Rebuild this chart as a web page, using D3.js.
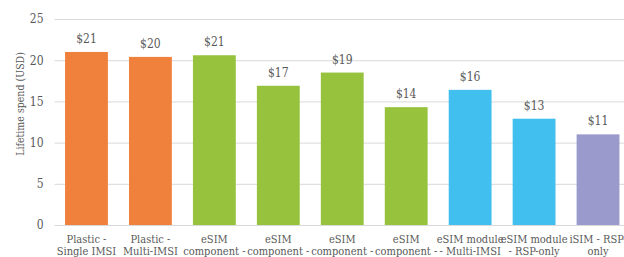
<!DOCTYPE html>
<html>
<head>
<meta charset="utf-8">
<script src="https://cdn.jsdelivr.net/npm/d3@7"></script>
<style>
  body { margin: 0; background: #fff; }
  svg text { font-family: "DejaVu Serif Condensed", "DejaVu Serif", "Liberation Serif", serif; font-stretch: condensed; fill: #595959; }
</style>
</head>
<body>
<div id="chart"></div>
<script>
// chart data
var categories = [
  "Plastic - Single IMSI",
  "Plastic - Multi-IMSI",
  "eSIM component - A",
  "eSIM component - B",
  "eSIM component - C",
  "eSIM component - D",
  "eSIM module - Multi-IMSI",
  "eSIM module - RSP-only",
  "iSIM - RSP-only"
];
// label lines as they show in the original (the rest falls below the picture)
var labelLines = [
  ["Plastic -", "Single IMSI"],
  ["Plastic -", "Multi-IMSI"],
  ["eSIM", "component -"],
  ["eSIM", "component -"],
  ["eSIM", "component -"],
  ["eSIM", "component -"],
  ["eSIM module", "- Multi-IMSI"],
  ["eSIM module", "- RSP-only"],
  ["iSIM - RSP-", "only"]
];
var spend = [21.0, 20.4, 20.6, 16.9, 18.5, 14.3, 16.4, 12.9, 11.0];
var group = ["plastic", "plastic", "component", "component", "component", "component", "module", "module", "isim"];
var yTicks = [0, 5, 10, 15, 20, 25];

var colors = {plastic: "#F0813C", component: "#97C23D", module: "#41BFEE", isim: "#9B9ACC"};

var W = 624, H = 257;
var margin = {top: 19, right: -6, bottom: 32, left: 54.5};
var width = W - margin.left - margin.right;
var height = H - margin.top - margin.bottom;

var svg = d3.select("#chart").append("svg")
  .attr("width", W)
  .attr("height", H);
var g = svg.append("g")
  .attr("transform", "translate(" + margin.left + "," + margin.top + ")");

var x = d3.scaleBand().domain(categories).range([0, width]).paddingInner(0.33).paddingOuter(0.165);
var y = d3.scaleLinear().domain([0, 25]).range([height, 0]);

// gridlines
g.selectAll(".grid").data(yTicks).enter().append("line")
  .attr("x1", 0).attr("x2", width)
  .attr("y1", function(d) { return y(d) + 0.5; })
  .attr("y2", function(d) { return y(d) + 0.5; })
  .attr("stroke", "#d9d9d9").attr("stroke-width", 1);

// y axis
var yAxis = g.append("g").call(d3.axisLeft(y).tickValues(yTicks).tickSize(0).tickPadding(11));
yAxis.select(".domain").remove();
yAxis.selectAll("text").style("font-size", "12px").attr("fill", "#595959");

// bars
g.selectAll(".bar").data(spend).enter().append("rect")
  .attr("x", function(d, i) { return x(categories[i]); })
  .attr("width", x.bandwidth())
  .attr("y", function(d) { return y(d); })
  .attr("height", function(d) { return height - y(d); })
  .attr("fill", function(d, i) { return colors[group[i]]; });

// value labels
g.selectAll(".val").data(spend).enter().append("text")
  .attr("x", function(d, i) { return x(categories[i]) + x.bandwidth() / 2; })
  .attr("y", function(d) { return y(d) - 9; })
  .attr("text-anchor", "middle")
  .style("font-size", "12px")
  .text(function(d) { return "$" + Math.round(d); });

// category labels
var xl = g.selectAll(".cat").data(categories).enter().append("text")
  .attr("text-anchor", "middle")
  .attr("transform", function(d) { return "translate(" + (x(d) + x.bandwidth() / 2) + "," + (height + 18) + ")"; })
  .style("font-size", "11px");
xl.each(function(d, i) {
  var t = d3.select(this);
  labelLines[i].forEach(function(line, k) {
    t.append("tspan").attr("x", 0).attr("y", k * 12).text(line);
  });
});

// y axis title
svg.append("text")
  .attr("transform", "translate(24,104) rotate(-90)")
  .attr("text-anchor", "middle")
  .style("font-size", "10.5px")
  .text("Lifetime spend (USD)");
</script>
</body>
</html>
